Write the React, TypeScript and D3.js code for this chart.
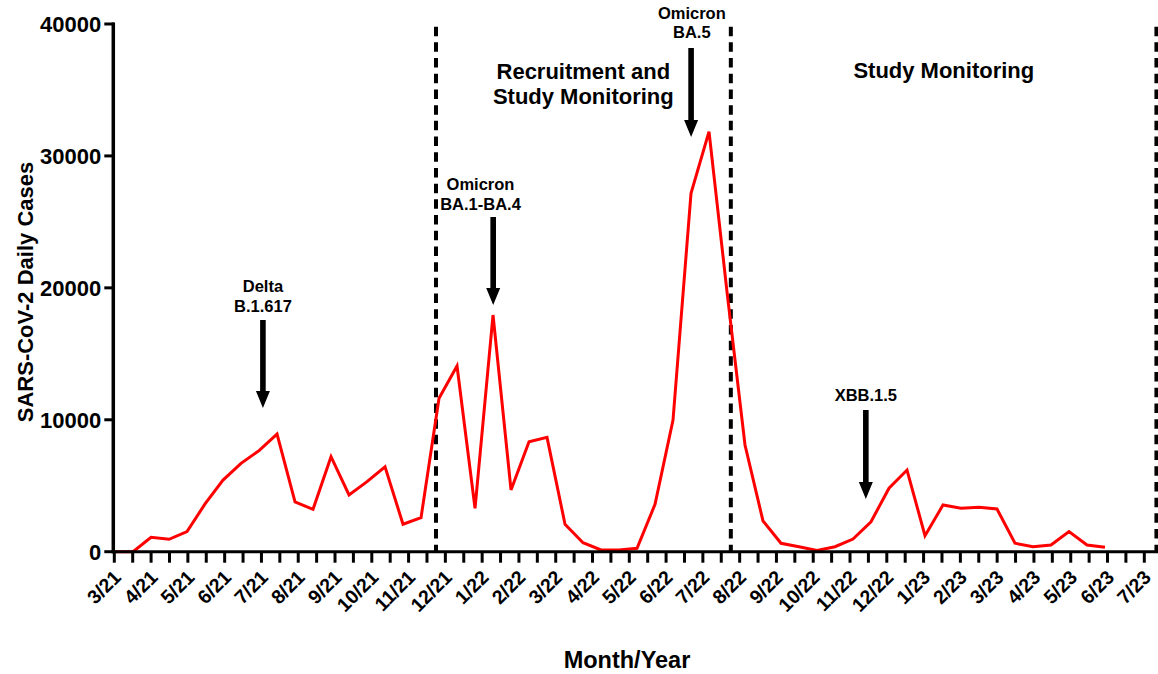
import React from "react";
import * as d3 from "d3";

// semi-monthly case counts, starting 3/21
const cases = [
  0, 0, 1090, 940, 1520, 3620, 5430, 6700, 7660, 8920,
  3770, 3210, 7200, 4300, 5310, 6440, 2080, 2580, 11630, 14080,
  3290, 17940, 4680, 8340, 8670, 2080, 680, 130, 130, 260,
  3590, 9980, 27170, 31840, 19700, 8090, 2330, 640, 380, 100,
  380, 960, 2270, 4810, 6190, 1210, 3540, 3290, 3370, 3240,
  640, 380, 510, 1520, 510, 330,
];
const sampleStart = 0.02; // months after 3/21
const sampleStep = 0.4893; // months between samples

const monthLabels = [
  "3/21", "4/21", "5/21", "6/21", "7/21", "8/21", "9/21", "10/21", "11/21", "12/21",
  "1/22", "2/22", "3/22", "4/22", "5/22", "6/22", "7/22", "8/22", "9/22", "10/22",
  "11/22", "12/22", "1/23", "2/23", "3/23", "4/23", "5/23", "6/23", "7/23",
];
const yTicks = [0, 10000, 20000, 30000, 40000];

// phase boundaries (months after 3/21)
const phaseLines = [8.745, 16.76, 28.33];

const phaseLabels = [
  { lines: ["Recruitment and", "Study Monitoring"], at: 12.75, y: [35850, 33960] },
  { lines: ["Study Monitoring"], at: 22.55, y: [35930] },
];

const variants = [
  { lines: ["Delta", "B.1.617"], at: 4.04, y: [19685, 18170], from: 17560, to: 10890 },
  { lines: ["Omicron", "BA.1-BA.4"], at: 9.955, arrowAt: 10.3, y: [27420, 25900], from: 25370, to: 18700 },
  { lines: ["Omicron", "BA.5"], at: 15.7, arrowAt: 15.68, y: [40380, 38940], from: 38180, to: 31430 },
  { lines: ["XBB.1.5"], at: 20.43, y: [11420], from: 10740, to: 3995 },
];

const W = 1158;
const H = 674;
const font = "'Liberation Sans', Arial, sans-serif";

const x = d3.scaleLinear().domain([0, 28]).range([114.3, 1144.3]);
const y = d3.scaleLinear().domain([0, 40000]).range([551.7, 24]);
const xEnd = x.invert(W);

const halfTicks = d3.range(0, xEnd, 0.5);

const line = d3
  .line<number>()
  .x((_, i) => x(sampleStart + i * sampleStep))
  .y((d) => y(d));

function arrowPath(cx: number, top: number, tip: number) {
  const sw = 2.8;
  const hw = 7;
  const hl = 17;
  return `M${cx - sw},${top}L${cx + sw},${top}L${cx + sw},${tip - hl}L${cx + hw},${tip - hl}L${cx},${tip}L${cx - hw},${tip - hl}L${cx - sw},${tip - hl}Z`;
}

export default function App() {
  return (
    <svg
      width={W}
      height={H}
      style={{ position: "absolute", left: 0, top: 0, background: "#fff" }}
      fontFamily={font}
      fontWeight="bold"
    >
      {phaseLines.map((m, i) => (
        <line
          key={i}
          x1={x(m)}
          x2={x(m)}
          y1={y(39800)}
          y2={y(0)}
          stroke="#000"
          strokeWidth={4}
          strokeDasharray="9.5 6.2"
        />
      ))}

      <path d={line(cases) ?? ""} fill="none" stroke="#ff0000" strokeWidth={3} strokeLinejoin="miter" />

      {/* y axis */}
      <line x1={x(0) - 1} x2={x(0) - 1} y1={y(40000) - 1.5} y2={y(0) + 1.5} stroke="#000" strokeWidth={3.5} />
      {yTicks.map((t) => (
        <g key={t} transform={`translate(0,${y(t)})`}>
          <line x1={x(0) - 10} x2={x(0)} stroke="#000" strokeWidth={3} />
          <text x={x(0) - 13} dy="0.36em" textAnchor="end" fontSize={22}>
            {t}
          </text>
        </g>
      ))}

      {/* x axis */}
      <line x1={x(0) - 2.5} x2={W} y1={y(0)} y2={y(0)} stroke="#000" strokeWidth={3} />
      {halfTicks.map((t) => (
        <line key={t} x1={x(t)} x2={x(t)} y1={y(0)} y2={y(0) + 11} stroke="#000" strokeWidth={3} />
      ))}
      {monthLabels.map((lab, i) => (
        <text
          key={lab}
          transform={`translate(${x(i) - 2},${y(0) + 17}) rotate(-45)`}
          dy="0.71em"
          textAnchor="end"
          fontSize={19.5}
        >
          {lab}
        </text>
      ))}

      <text x={627} y={668} textAnchor="middle" fontSize={23.5}>
        Month/Year
      </text>
      <text transform={`translate(33,292) rotate(-90)`} textAnchor="middle" fontSize={22}>
        SARS-CoV-2 Daily Cases
      </text>

      {phaseLabels.map((p, i) => (
        <g key={i}>
          {p.lines.map((l, j) => (
            <text key={j} x={x(p.at)} y={y(p.y[j])} textAnchor="middle" fontSize={22}>
              {l}
            </text>
          ))}
        </g>
      ))}

      {variants.map((v, i) => (
        <g key={i}>
          {v.lines.map((l, j) => (
            <text key={j} x={x(v.at)} y={y(v.y[j])} textAnchor="middle" fontSize={16.5}>
              {l}
            </text>
          ))}
          <path d={arrowPath(x(v.arrowAt ?? v.at), y(v.from), y(v.to))} fill="#000" />
        </g>
      ))}
    </svg>
  );
}
